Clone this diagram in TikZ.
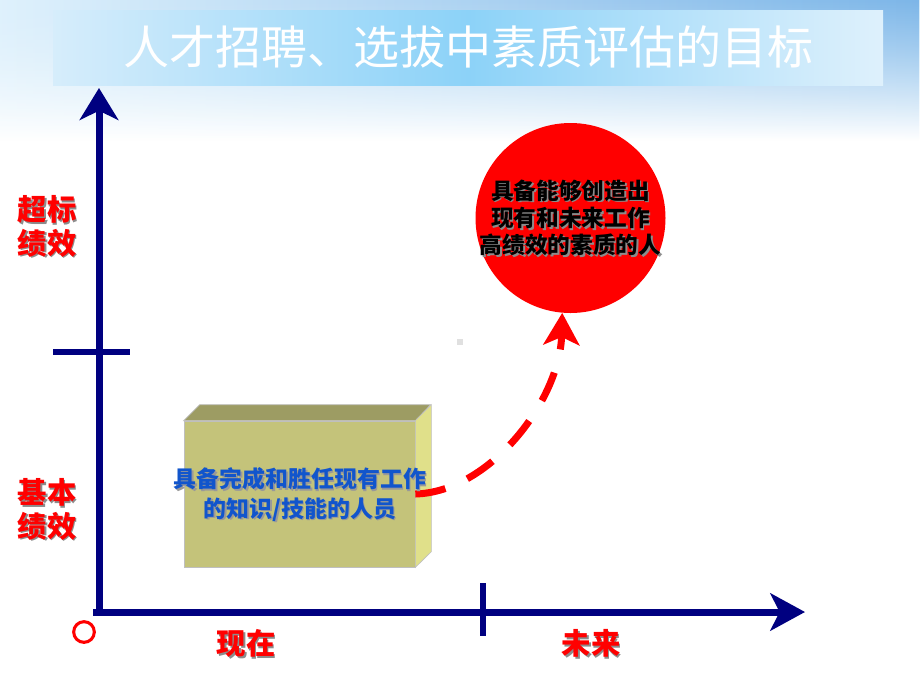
\documentclass[tikz,border=0pt]{standalone}
\usepackage{fontspec}
\newfontfamily\cjk{Noto Sans CJK SC}
\usetikzlibrary{arrows.meta,fadings}
\definecolor{axisblue}{HTML}{000080}
\definecolor{boxfront}{HTML}{C4C37A}
\definecolor{boxtop}{HTML}{9D9C63}
\definecolor{boxside}{HTML}{E0E08A}
\definecolor{txtblue}{HTML}{1155CC}
\definecolor{bandmid}{HTML}{8CD2F8}
\definecolor{bandedge}{HTML}{D6EDFB}
\definecolor{skyblue}{HTML}{7DB6E8}
\tikzset{
  axisline/.style={draw=axisblue, line width=5.25pt},
  redlbl/.style={text=red, font=\cjk\bfseries\fontsize{22}{25}\selectfont, align=center, inner sep=0pt},
  shadowlbl/.style={text=black!45, font=\cjk\bfseries\fontsize{22}{25}\selectfont, align=center, inner sep=0pt},
  boxtxt/.style={text=txtblue, font=\cjk\bfseries\fontsize{17.2}{22}\selectfont, align=center, inner sep=0pt},
  boxshadow/.style={text=black!40, font=\cjk\bfseries\fontsize{17.2}{22}\selectfont, align=center, inner sep=0pt},
  goaltxt/.style={text=black, font=\cjk\bfseries\fontsize{17}{20.5}\selectfont, align=center, inner sep=0pt},
  goalshadow/.style={text=black!45, font=\cjk\bfseries\fontsize{17}{20.5}\selectfont, align=center, inner sep=0pt},
}
\begin{document}
\begin{tikzpicture}[x=0.75pt,y=-0.75pt]
\useasboundingbox (0,0) rectangle (920,690);
\fill[white] (0,0) rectangle (920,690);
% background top
\shade[top color=bandedge!80!white, bottom color=white] (0,0) rectangle (920,140);
\shade[left color=bandedge!80!white, right color=skyblue, path fading=south] (0,0) rectangle (920,140);
% title band
\shade[left color=bandedge, right color=bandedge!80!white, middle color=bandmid] (53,10) rectangle (883,85);
\node[text=white, font=\cjk\fontsize{34.5}{40}\selectfont, inner sep=0pt] (title) at (468,47) {人才招聘、选拔中素质评估的目标};

% axes
\coordinate (ybot) at (99,615);
\coordinate (ytip) at (99,88);
\coordinate (xleft) at (93,612);
\coordinate (xtip) at (805,612);
\draw[axisline, -{Stealth[length=24pt,width=29pt,inset=7pt]}] (ybot) -- (ytip);
\draw[axisline, -{Stealth[length=26pt,width=28pt,inset=7pt]}] (xleft) -- (xtip);
\coordinate (yt1) at (53,352);
\coordinate (yt2) at (130,352);
\draw[axisline, line width=4.5pt] (yt1) -- (yt2);
\coordinate (xt1) at (483,583);
\coordinate (xt2) at (483,636);
\draw[axisline, line width=4.5pt] (xt1) -- (xt2);
\node[circle, draw=red, line width=2.3pt, minimum size=15.5pt, inner sep=0pt] (orig) at (84,632) {};

% axis labels
\node[shadowlbl] (l1s) at (48.5,228) {超标\\绩效};
\node[redlbl] (l1) at (47,226.5) {超标\\绩效};
\node[shadowlbl] (l2s) at (48.5,511) {基本\\绩效};
\node[redlbl] (l2) at (47,509.5) {基本\\绩效};
\node[shadowlbl] (l3s) at (247.5,645) {现在};
\node[redlbl] (l3) at (246,643.5) {现在};
\node[shadowlbl] (l4s) at (592.5,645) {未来};
\node[redlbl] (l4) at (591,643.5) {未来};

% 3D box
\node[draw=black!25, line width=0.5pt, fill=boxfront, minimum width=173.25pt, minimum height=109.5pt, inner sep=0pt] (box) at (299.5,494) {};
\draw[draw=black!25, line width=0.5pt, fill=boxtop] (box.north west) -- ++(16,-16) -- ++(231,0) -- (box.north east) -- cycle;
\draw[draw=black!25, line width=0.5pt, fill=boxside] (box.north east) -- ++(16,-16) -- ++(0,147) -- (box.south east) -- cycle;

% goal circle
\node[circle, fill=red, minimum size=142.5pt, inner sep=0pt] (goal) at (570.5,218) {};
\node[goalshadow] (gts) at (572,219.5) {具备能够创造出\\现有和未来工作\\高绩效的素质的人};
\node[goaltxt] (gt) at (570.5,218) {具备能够创造出\\现有和未来工作\\高绩效的素质的人};

% dashed arrow
\draw[red, line width=5.25pt, dash pattern=on 23pt off 18pt, -{Stealth[length=24pt,width=27pt,inset=6pt]}]
  (box.east) .. controls (490,492) and (560,400) .. (goal.265);

% box text
\node[boxshadow] (bts) at (301.5,496) {具备完成和胜任现有工作\\的知识/技能的人员};
\node[boxtxt] (bt) at (300,494.5) {具备完成和胜任现有工作\\的知识/技能的人员};

% small gray dot
\node[fill=black!12, minimum size=4pt, inner sep=0pt] (dot) at (460,342) {};
\end{tikzpicture}
\end{document}
